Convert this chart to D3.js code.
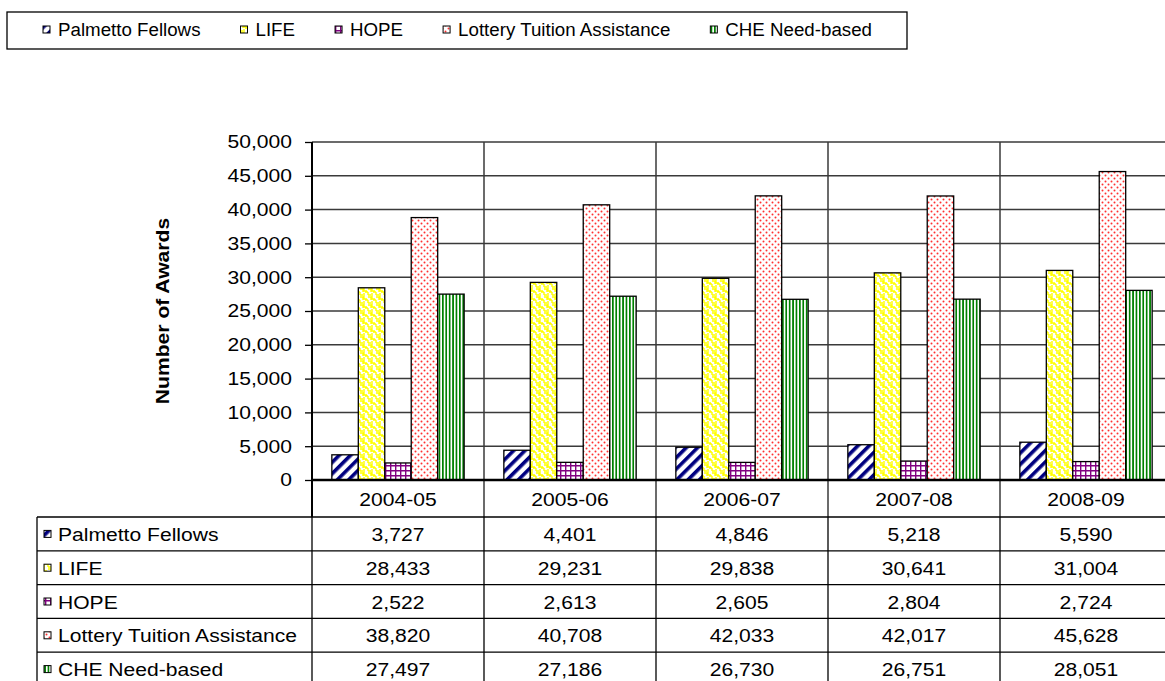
<!DOCTYPE html>
<html>
<head>
<meta charset="utf-8">
<script src="https://cdn.jsdelivr.net/npm/d3@7/dist/d3.min.js"></script>
<style>
    body { margin: 0; background: #fff; }
    svg { display: block; font-family: "Liberation Sans", Arial, sans-serif; }
</style>
</head>
<body>
<div id="main"></div>
<script>
// chart data
const years = ['2004-05', '2005-06', '2006-07', '2007-08', '2008-09']
const seriesNames = ['Palmetto Fellows', 'LIFE', 'HOPE', 'Lottery Tuition Assistance', 'CHE Need-based']
const palmetto = [3727, 4401, 4846, 5218, 5590]
const life = [28433, 29231, 29838, 30641, 31004]
const hope = [2522, 2613, 2605, 2804, 2724]
const lottery = [38820, 40708, 42033, 42017, 45628]
const cheNeed = [27497, 27186, 26730, 26751, 28051]
const yTicks = [0, 5000, 10000, 15000, 20000, 25000, 30000, 35000, 40000, 45000, 50000]

const ctx = {
    w: 1165,
    h: 681,
    plotLeft: 312,
    plotRight: 1172,
    plotTop: 142,
    plotBottom: 480,
    tableLeft: 37,
    tableTop: 517,
    tableBottom: 686,
    grid: '#3a3a3a',
    fs: 18.5,
    sx: 1.14 // the picture's text is a bit wide
}

const series = [
    { name: seriesNames[0], values: palmetto, pat: 'pat-palmetto' },
    { name: seriesNames[1], values: life, pat: 'pat-life' },
    { name: seriesNames[2], values: hope, pat: 'pat-hope' },
    { name: seriesNames[3], values: lottery, pat: 'pat-lottery' },
    { name: seriesNames[4], values: cheNeed, pat: 'pat-che' }
]

function addPatterns(defs) {
    // navy diagonal stripes
    let p = defs.append('pattern').attr('id', 'pat-palmetto')
        .attr('patternUnits', 'userSpaceOnUse').attr('width', 8).attr('height', 8)
        .attr('patternTransform', 'rotate(45)')
    p.append('rect').attr('width', 8).attr('height', 8).attr('fill', '#fff')
    p.append('rect').attr('width', 3.6).attr('height', 8).attr('fill', '#000080')

    // yellow weave
    p = defs.append('pattern').attr('id', 'pat-life')
        .attr('patternUnits', 'userSpaceOnUse').attr('width', 8).attr('height', 8)
    p.append('rect').attr('width', 8).attr('height', 8).attr('fill', '#fff')
    p.append('path')
        .attr('d', 'M0,1 H3 V4 M4,0 V3 H7 M5,4 H8 M8,4 V7 M0,4 V7 H3 M4,5 V8')
        .attr('fill', 'none').attr('stroke', '#ffff00').attr('stroke-width', 1.4)

    // purple grid
    p = defs.append('pattern').attr('id', 'pat-hope')
        .attr('patternUnits', 'userSpaceOnUse').attr('width', 5).attr('height', 5)
    p.append('rect').attr('width', 5).attr('height', 5).attr('fill', '#fff')
    p.append('path').attr('d', 'M0,0.7 H5 M0.7,0 V5')
        .attr('stroke', '#800080').attr('stroke-width', 1.4)

    // red dots
    p = defs.append('pattern').attr('id', 'pat-lottery')
        .attr('patternUnits', 'userSpaceOnUse').attr('width', 6).attr('height', 6)
    p.append('rect').attr('width', 6).attr('height', 6).attr('fill', '#fff')
    p.append('circle').attr('cx', 1.5).attr('cy', 1.5).attr('r', 1).attr('fill', '#ff3030')
    p.append('circle').attr('cx', 4.5).attr('cy', 4.5).attr('r', 1).attr('fill', '#ff3030')

    // green vertical stripes
    p = defs.append('pattern').attr('id', 'pat-che')
        .attr('patternUnits', 'userSpaceOnUse').attr('width', 3.4).attr('height', 4)
    p.append('rect').attr('width', 3.4).attr('height', 4).attr('fill', '#fff')
    p.append('rect').attr('width', 1.7).attr('height', 4).attr('fill', '#008000')
}

// text placed at (x, y) and stretched horizontally
function wideText(parent, x, y, str, anchor) {
    return parent.append('text')
        .attr('transform', `translate(${x},${y}) scale(${ctx.sx},1)`)
        .attr('text-anchor', anchor || 'start')
        .attr('font-size', ctx.fs)
        .text(str)
}

function createViz() {
    let svg = d3.select('#main').append('svg')
        .attr('width', ctx.w)
        .attr('height', ctx.h)
    addPatterns(svg.append('defs'))

    let x = d3.scaleBand().domain(years).range([ctx.plotLeft, ctx.plotRight]).padding(0)
    let xIn = d3.scaleBand().domain(seriesNames).range([0, x.bandwidth()])
        .paddingInner(0).paddingOuter(0.75)
    let y = d3.scaleLinear().domain([0, 50000]).range([ctx.plotBottom, ctx.plotTop])
    let rows = d3.scaleBand().domain(seriesNames).range([ctx.tableTop, ctx.tableBottom])
    let fmt = d3.format(',')

    // horizontal gridlines
    svg.append('g').selectAll('line')
        .data(yTicks.filter(d => d > 0))
        .join('line')
        .attr('x1', ctx.plotLeft).attr('x2', ctx.plotRight)
        .attr('y1', d => y(d)).attr('y2', d => y(d))
        .attr('stroke', ctx.grid).attr('stroke-width', 1.5)

    // vertical lines at category boundaries (plot + header row)
    svg.append('g').selectAll('line')
        .data(years.slice(1))
        .join('line')
        .attr('x1', d => x(d)).attr('x2', d => x(d))
        .attr('y1', ctx.plotTop).attr('y2', ctx.tableTop)
        .attr('stroke', ctx.grid).attr('stroke-width', 1.5)

    // bars
    let groups = svg.append('g').selectAll('g')
        .data(series)
        .join('g')
    groups.selectAll('rect')
        .data(s => s.values.map((v, i) => ({ name: s.name, pat: s.pat, year: years[i], value: v })))
        .join('rect')
        .attr('x', d => x(d.year) + xIn(d.name))
        .attr('y', d => y(d.value))
        .attr('width', xIn.bandwidth())
        .attr('height', d => y(0) - y(d.value))
        .attr('fill', d => `url(#${d.pat})`)
        .attr('stroke', '#000')
        .attr('stroke-width', 1.3)

    // y axis
    let yAxis = svg.append('g')
        .attr('transform', `translate(${ctx.plotLeft},0)`)
        .call(d3.axisLeft(y).tickValues(yTicks).tickFormat(fmt).tickSize(7).tickSizeOuter(0))
    yAxis.select('.domain').remove()
    yAxis.selectAll('.tick line').attr('stroke', '#000').attr('stroke-width', 1.3)
    yAxis.selectAll('.tick text')
        .attr('x', -20 / ctx.sx)
        .attr('transform', `scale(${ctx.sx},1)`)
        .attr('font-size', ctx.fs)
        .attr('fill', '#000')
        .attr('font-family', '"Liberation Sans", Arial, sans-serif')
    svg.append('line')
        .attr('x1', ctx.plotLeft).attr('x2', ctx.plotLeft)
        .attr('y1', ctx.plotTop).attr('y2', ctx.tableTop)
        .attr('stroke', '#000').attr('stroke-width', 2)

    // axis title
    svg.append('text')
        .attr('transform', `translate(169,${(ctx.plotTop + ctx.plotBottom) / 2}) rotate(-90) scale(${ctx.sx},1)`)
        .attr('text-anchor', 'middle')
        .attr('font-size', ctx.fs)
        .attr('font-weight', 'bold')
        .text('Number of Awards')

    // data table
    let table = svg.append('g')
    table.selectAll('line.h')
        .data(seriesNames)
        .join('line')
        .attr('class', 'h')
        .attr('x1', ctx.tableLeft).attr('x2', ctx.plotRight)
        .attr('y1', d => rows(d)).attr('y2', d => rows(d))
        .attr('stroke', '#000').attr('stroke-width', 1.3)
    table.selectAll('line.v')
        .data([ctx.tableLeft, ...years.map(d => x(d)), ctx.plotRight])
        .join('line')
        .attr('class', 'v')
        .attr('x1', d => d).attr('x2', d => d)
        .attr('y1', ctx.tableTop).attr('y2', ctx.tableBottom)
        .attr('stroke', '#000').attr('stroke-width', 1.3)

    // x axis line
    svg.append('line')
        .attr('x1', ctx.plotLeft).attr('x2', ctx.plotRight)
        .attr('y1', ctx.plotBottom).attr('y2', ctx.plotBottom)
        .attr('stroke', '#000').attr('stroke-width', 2.5)

    // header row labels
    years.forEach(yr => {
        wideText(table, x(yr) + x.bandwidth() / 2, (ctx.plotBottom + ctx.tableTop) / 2 + 7, yr, 'middle')
    })

    // row labels with markers and values
    series.forEach(s => {
        let cy = rows(s.name) + rows.bandwidth() / 2
        table.append('rect')
            .attr('x', 44).attr('y', cy - 3.5)
            .attr('width', 7).attr('height', 7)
            .attr('fill', `url(#${s.pat})`)
            .attr('stroke', '#000').attr('stroke-width', 1)
        wideText(table, 58, cy + 7, s.name)
        s.values.forEach((v, i) => {
            wideText(table, x(years[i]) + x.bandwidth() / 2, cy + 7, fmt(v), 'middle')
        })
    })

    // legend
    let legend = svg.append('g')
    legend.append('rect')
        .attr('x', 7).attr('y', 12).attr('width', 900).attr('height', 37)
        .attr('fill', '#fff').attr('stroke', '#000').attr('stroke-width', 1.3)
    let lx = 43
    series.forEach(s => {
        legend.append('rect')
            .attr('x', lx).attr('y', 26).attr('width', 7).attr('height', 7)
            .attr('fill', `url(#${s.pat})`)
            .attr('stroke', '#000').attr('stroke-width', 1)
        let t = legend.append('text')
            .attr('transform', `translate(${lx + 15},36) scale(1.04,1)`)
            .attr('font-size', 18)
            .text(s.name)
        lx = lx + 15 + t.node().getComputedTextLength() * 1.04 + 40
    })
}

createViz()
</script>
</body>
</html>
